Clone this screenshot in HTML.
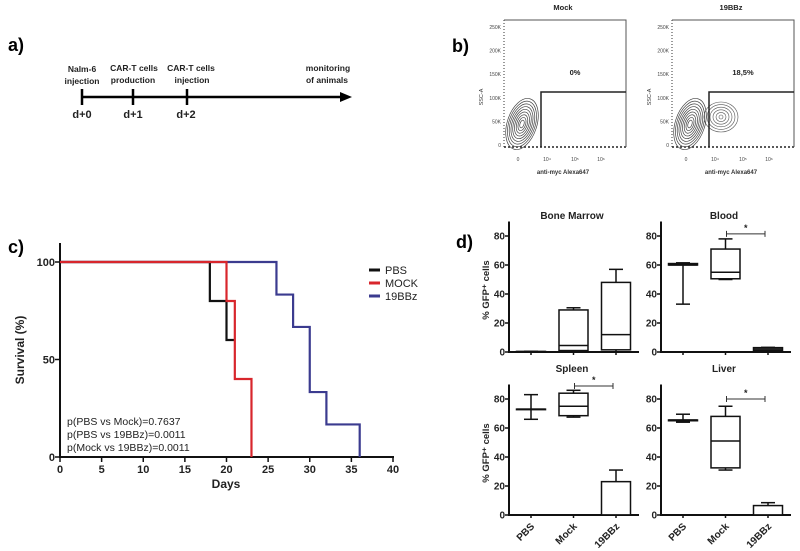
<!DOCTYPE html>
<html><head><meta charset="utf-8"><style>
html,body{margin:0;padding:0;background:#fff;}
svg{display:block;font-family:"Liberation Sans",Arial,sans-serif;}
.b{font-weight:bold;}
</style></head><body>
<svg id="fig" width="800" height="551" viewBox="0 0 800 551">
<g>
<text x="8" y="51" class="b" font-size="18">a)</text>
<line x1="82" y1="97" x2="342" y2="97" stroke="#000" stroke-width="2.5"/>
<polygon points="340,92 352,97 340,102" fill="#000"/>
<line x1="82" y1="89" x2="82" y2="105" stroke="#000" stroke-width="2.5"/>
<line x1="133" y1="89" x2="133" y2="105" stroke="#000" stroke-width="2.5"/>
<line x1="187" y1="89" x2="187" y2="105" stroke="#000" stroke-width="2.5"/>
<g font-size="8.5" class="b" fill="#222" text-anchor="middle">
<text x="82" y="72">Nalm-6</text>
<text x="82" y="84">injection</text>
<text x="134" y="71">CAR-T cells</text>
<text x="133" y="83">production</text>
<text x="191" y="71">CAR-T cells</text>
<text x="192" y="83">injection</text>
<text x="328" y="71">monitoring</text>
<text x="327" y="83">of animals</text>
</g>
<g font-size="11" class="b" fill="#222" text-anchor="middle">
<text x="82" y="118">d+0</text>
<text x="133" y="118">d+1</text>
<text x="186" y="118">d+2</text>
</g>
</g>
<text x="452" y="52" class="b" font-size="18">b)</text>
<g id="flow"></g>
<text x="8" y="253" class="b" font-size="18">c)</text>
<g id="surv"></g>
<text x="456" y="248" class="b" font-size="18">d)</text>
<g id="boxes"></g>
</svg>
<script>
const NS="http://www.w3.org/2000/svg";
function mk(p,tag,a,txt){const e=document.createElementNS(NS,tag);for(const k in a)e.setAttribute(k,a[k]);if(txt!==undefined)e.textContent=txt;p.appendChild(e);return e;}

/* ---------- Panel b ---------- */
const flowTitles=["Mock","19BBz"];
const flowPercents=["0%","18,5%"];
const flowYTicks=["0","50K","100K","150K","200K","250K"];
const flowYVals=[0,50,100,150,200,250];
const flowLefts=[504,672];
const flowG=document.getElementById('flow');
flowTitles.forEach((t,i)=>{
  const L=flowLefts[i],R=L+122,T=20,B=147;
  const g=mk(flowG,'g',{});
  
  
  const y=v=>145-v*(118/250);
  let e=mk(g,'line',{x1:L,y1:T,x2:L,y2:B,stroke:'#333','stroke-width':1,'stroke-dasharray':'1,2'});
  
  e=mk(g,'line',{x1:L,y1:B,x2:R,y2:B,stroke:'#222','stroke-width':1.5,'stroke-dasharray':'2,2'});
  
  e=mk(g,'polyline',{points:`${L},${T} ${R},${T} ${R},${B}`,fill:'none',stroke:'#555','stroke-width':1});
  
  flowYVals.forEach((v,j)=>{
    e=mk(g,'text',{x:L-3,y:y(v)+2,'font-size':5,'text-anchor':'end',fill:'#444'},flowYTicks[j]);
    
  });
  [["0",14],["10\u2074",43],["10\u2075",71],["10\u2076",97]].forEach(a=>{
    e=mk(g,'text',{x:L+a[1],y:161,'font-size':5,'text-anchor':'middle',fill:'#444'},a[0]);
    
  });
  const gx=L+37;
  const cx=L+18,cy=124;
  for(let k=0;k<9;k++){
    e=mk(g,'ellipse',{cx:cx,cy:cy,rx:2+k*1.6,ry:4+k*2.8,fill:'none',stroke:'#444','stroke-width':0.7,transform:`rotate(18 ${cx} ${cy})`});
    
  }
  if(i===1){
    for(let k=0;k<6;k++){
      e=mk(g,'ellipse',{cx:L+49,cy:117,rx:2+k*3,ry:2+k*2.6,fill:'none',stroke:'#555','stroke-width':0.6});
      
    }
  }
  e=mk(g,'polyline',{points:`${gx},${B} ${gx},92 ${R},92`,fill:'none',stroke:'#222','stroke-width':1.5});
  
  e=mk(g,'text',{x:L+59,y:10,'font-size':7.5,'text-anchor':'middle',class:'b',fill:'#222'},t);
  
  e=mk(g,'text',{x:L+71,y:75,'font-size':7.5,'text-anchor':'middle',class:'b',fill:'#222'},flowPercents[i]);
  
  e=mk(g,'text',{x:L+59,y:174,'font-size':6,'text-anchor':'middle',class:'b',fill:'#333'},'anti-myc Alexa647');
  
  e=mk(g,'text',{x:L-21,y:97,'font-size':5.5,'text-anchor':'middle',fill:'#333',transform:`rotate(-90 ${L-21} 97)`},'SSC-A');
  
});

/* ---------- Panel c ---------- */
const survSeries=["PBS","MOCK","19BBz"];
const survColors=["#111","#d8262c","#3b3b8f"];
const pbsDays=[0,18,20,21];
const pbsSurv=[100,80,60,60];
const mockDays=[0,20,21,23];
const mockSurv=[100,80,40,0];
const bbzDays=[0,26,28,30,32,36];
const bbzSurv=[100,83.3,66.7,33.3,16.7,0];
const survXTicks=[0,5,10,15,20,25,30,35,40];
const survYTicks=[0,50,100];
const pValues=["p(PBS vs Mock)=0.7637","p(PBS vs 19BBz)=0.0011","p(Mock vs 19BBz)=0.0011"];
const sx=d=>60+d*(333/40), sy=v=>457-v*(195/100);
(function(){
  const g=document.getElementById('surv');
  let e=mk(g,'line',{x1:60,y1:243,x2:60,y2:458,stroke:'#111','stroke-width':2});
  
  e=mk(g,'line',{x1:59,y1:457,x2:394,y2:457,stroke:'#111','stroke-width':2});
  
  survXTicks.forEach(t=>{
    e=mk(g,'line',{x1:sx(t),y1:457,x2:sx(t),y2:462,stroke:'#111','stroke-width':1.5});
    
    e=mk(g,'text',{x:sx(t),y:473,'font-size':11,'text-anchor':'middle',class:'b',fill:'#222'},t);
    
  });
  survYTicks.forEach(t=>{
    e=mk(g,'line',{x1:55,y1:sy(t),x2:60,y2:sy(t),stroke:'#111','stroke-width':1.5});
    
    e=mk(g,'text',{x:55,y:sy(t)+4,'font-size':11,'text-anchor':'end',class:'b',fill:'#222'},t);
    
  });
  e=mk(g,'text',{x:226,y:488,'font-size':12,'text-anchor':'middle',class:'b',fill:'#222'},'Days');
  
  e=mk(g,'text',{x:24,y:350,'font-size':12,'text-anchor':'middle',class:'b',fill:'#222',transform:'rotate(-90 24 350)'},'Survival (%)');
  
  const all=[[pbsDays,pbsSurv],[mockDays,mockSurv],[bbzDays,bbzSurv]];
  [2,0,1].forEach(si=>{
    const [ds,vs]=all[si];let pts=[];
    for(let k=0;k<ds.length;k++){
      if(k>0)pts.push([sx(ds[k]),sy(vs[k-1])]);
      pts.push([sx(ds[k]),sy(vs[k])]);
    }
    e=mk(g,'polyline',{points:pts.map(p=>p.join(',')).join(' '),fill:'none',stroke:survColors[si],'stroke-width':2.2});
    
  });
  survSeries.forEach((s,i)=>{
    const y=270+i*13;
    e=mk(g,'line',{x1:369,y1:y,x2:380,y2:y,stroke:survColors[i],'stroke-width':3});
    
    e=mk(g,'text',{x:385,y:y+4,'font-size':11,fill:'#222'},s);
    
  });
  pValues.forEach((p,i)=>{
    e=mk(g,'text',{x:67,y:425+i*13,'font-size':10.5,fill:'#222'},p);
    
  });
})();

/* ---------- Panel d ---------- */
const boxCategories=["PBS","Mock","19BBz"];
const panelTitles=["Bone Marrow","Blood","Spleen","Liver"];
const boxMin=[[0,0,0],[33,50,0.5],[66,67.5,0],[64,31,0]];
const boxQ1=[[0.3,1,1.5],[60,50.5,1],[73,68.5,0],[65,32.5,0]];
const boxMedian=[[0.3,4.5,12],[60,55,2],[73,75,0],[65.5,51,0]];
const boxQ3=[[0.4,29,48],[61,71,3],[73,84,23],[65.5,68,6.5]];
const boxMax=[[0.5,30.5,57],[61.5,78,3.2],[83,86,31],[69.5,75,8.5]];
const boxYTicks=[0,20,40,60,80];
const sigBars=[null,[1,2,81.5],[1,2,89],[1,2,80]];
(function(){
  const g=document.getElementById('boxes');
  const axL=[509,661,509,661], axB=[352,352,515,515];
  panelTitles.forEach((t,pi)=>{
    const L=axL[pi],B=axB[pi],W=130;
    const sub=mk(g,'g',{});
    
    
    const y=v=>B-v*(116/80);
    const x=i=>L+22+i*42.5;
    let e=mk(sub,'line',{x1:L,y1:y(90),x2:L,y2:B+1,stroke:'#111','stroke-width':2});
    
    e=mk(sub,'line',{x1:L-1,y1:B,x2:L+W,y2:B,stroke:'#111','stroke-width':2});
    
    boxYTicks.forEach(v=>{
      e=mk(sub,'line',{x1:L-4,y1:y(v),x2:L,y2:y(v),stroke:'#111','stroke-width':1.5});
      
      e=mk(sub,'text',{x:L-4,y:y(v)+3.5,'font-size':10,'text-anchor':'end',class:'b',fill:'#222'},v);
      
    });
    e=mk(sub,'text',{x:L+63,y:pi<2?219:372,'font-size':10,'text-anchor':'middle',class:'b',fill:'#222'},t);
    
    if(pi%2===0){
      const cy=pi<2?290:453;
      e=mk(sub,'text',{x:489,y:cy,'font-size':9.5,'text-anchor':'middle',class:'b',fill:'#222',transform:`rotate(-90 489 ${cy})`},'% GFP\u207A cells');
      
    }
    boxCategories.forEach((c,ci)=>{
      const cx=x(ci),hw=14.5,cap=7;
      e=mk(sub,'line',{x1:cx,y1:B,x2:cx,y2:B+3,stroke:'#111','stroke-width':1.5});
      
      const mn=boxMin[pi][ci],q1=boxQ1[pi][ci],md=boxMedian[pi][ci],q3=boxQ3[pi][ci],mx=boxMax[pi][ci];
      e=mk(sub,'line',{x1:cx,y1:y(mx),x2:cx,y2:y(mn),stroke:'#111','stroke-width':1.5});
      
      e=mk(sub,'line',{x1:cx-cap,y1:y(mx),x2:cx+cap,y2:y(mx),stroke:'#111','stroke-width':1.5});
      
      e=mk(sub,'line',{x1:cx-cap,y1:y(mn),x2:cx+cap,y2:y(mn),stroke:'#111','stroke-width':1.5});
      
      e=mk(sub,'rect',{x:cx-hw,y:y(q3),width:hw*2,height:Math.max(0.5,y(q1)-y(q3)),fill:'#fff',stroke:'#111','stroke-width':1.5});
      
      e=mk(sub,'line',{x1:cx-hw,y1:y(md),x2:cx+hw,y2:y(md),stroke:'#111','stroke-width':1.5});
      
      if(pi>=2){
        e=mk(sub,'text',{x:cx+4,y:B+12,'font-size':10,'text-anchor':'end',class:'b',fill:'#222',transform:`rotate(-45 ${cx+4} ${B+12})`},c);
        
      }
    });
    const s=sigBars[pi];
    if(s){
      const x1=x(s[0])+1,x2=x(s[1])-3,yy=y(s[2]);
      e=mk(sub,'line',{x1:x1,y1:yy,x2:x2,y2:yy,stroke:'#333','stroke-width':1});
      
      e=mk(sub,'line',{x1:x1,y1:yy-3,x2:x1,y2:yy+3,stroke:'#333','stroke-width':1});
      
      e=mk(sub,'line',{x1:x2,y1:yy-3,x2:x2,y2:yy+3,stroke:'#333','stroke-width':1});
      
      e=mk(sub,'text',{x:(x1+x2)/2,y:yy-3,'font-size':9,'text-anchor':'middle',class:'b',fill:'#222'},'*');
      
    }
  });
})();
</script>
</body></html>
